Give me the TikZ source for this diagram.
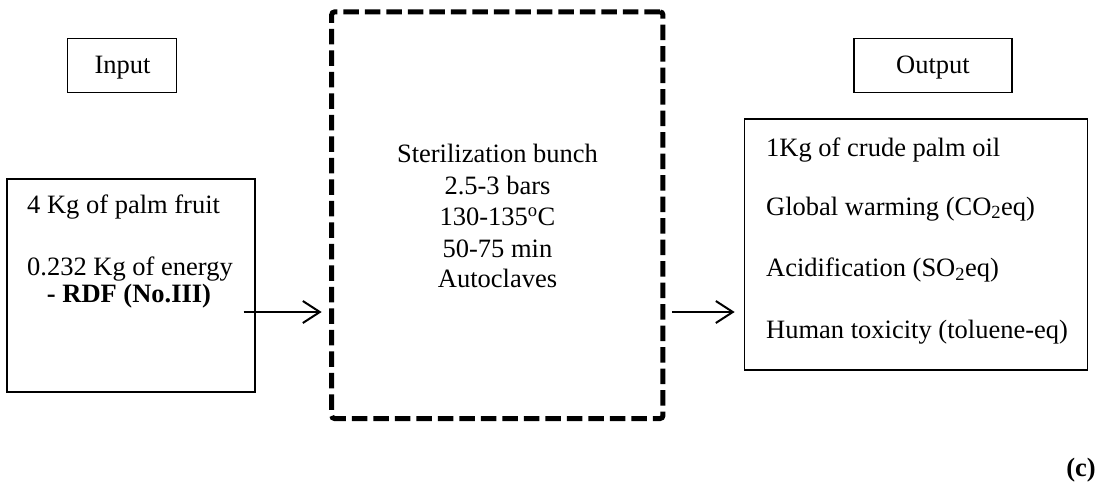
\documentclass[tikz,border=0pt]{standalone}
\usepackage{fontspec}
\setmainfont{Liberation Serif}
\usetikzlibrary{arrows.meta}

\tikzset{
  plainbox/.style={draw=black, line width=1.3pt, rectangle, inner sep=0pt},
  processbox/.style={draw=black, line width=5pt, rectangle, inner sep=0pt,
    rounded corners=3pt, dash pattern=on 15.5pt off 6pt},
  label/.style={inner sep=0pt, font=\fontsize{26.5}{31.25}\selectfont},
  flow/.style={line width=2pt, -{Straight Barb[length=17pt,width=22pt,line width=2pt]}}
}

\begin{document}
\begin{tikzpicture}[x=1pt, y=-1pt]
  \useasboundingbox (0,0) rectangle (1097,483);

  % heading boxes
  \node[plainbox, minimum width=109.4pt, minimum height=54pt] (inhead) at (122,65.3) {};
  \node[label, anchor=base] (inheadtxt) at (122.5,73) {Input};
  \node[plainbox, minimum width=158pt, minimum height=54pt] (outhead) at (933,65.3) {};
  \node[label, anchor=base] (outheadtxt) at (933,73) {Output};

  % input box
  \node[plainbox, minimum width=248pt, minimum height=213pt] (inbox) at (131,285.5) {};
  \node[label, anchor=base west] (in1) at (27,213) {4 Kg of palm fruit};
  \node[label, anchor=base west] (in2) at (27,275) {0.232 Kg of energy};
  \node[label, anchor=base, font=\fontsize{26.5}{31.25}\selectfont\bfseries] (in3) at (129,302) {- RDF (No.III)};

  % process box
  \node[processbox, minimum width=331.3pt, minimum height=406.7pt] (proc) at (497.3,215.2) {};
  \node[label, anchor=base] (p1) at (497.5,162.7) {Sterilization bunch};
  \node[label, anchor=base] (p2) at (497.5,194) {2.5-3 bars};
  \node[label, anchor=base] (p3) at (497.5,225.5) {130-135\textsuperscript{o}C};
  \node[label, anchor=base] (p4) at (497.5,257) {50-75 min};
  \node[label, anchor=base] (p5) at (497.5,287.7) {Autoclaves};

  % output box
  \node[plainbox, minimum width=343.4pt, minimum height=251pt] (outbox) at (916,244.5) {};
  \node[label, anchor=base west] (o1) at (766,156) {1Kg of crude palm oil};
  \node[label, anchor=base west] (o2) at (766,215) {Global warming (CO\textsubscript{2}eq)};
  \node[label, anchor=base west] (o3) at (766,276.7) {Acidification (SO\textsubscript{2}eq)};
  \node[label, anchor=base west] (o4) at (766,338.3) {Human toxicity (toluene-eq)};

  % panel tag
  \node[label, anchor=base east, font=\fontsize{26.5}{31.25}\selectfont\bfseries] (tag) at (1096,476) {(c)};

  % flow arrows
  \coordinate (flowlevel) at (0,312);
  \draw[flow, shorten <=-12pt, shorten >=7.5pt] (inbox.east |- flowlevel) -- (proc.west |- flowlevel);
  \draw[flow, shorten <=6.5pt, shorten >=9pt] (proc.east |- flowlevel) -- (outbox.west |- flowlevel);
\end{tikzpicture}
\end{document}
